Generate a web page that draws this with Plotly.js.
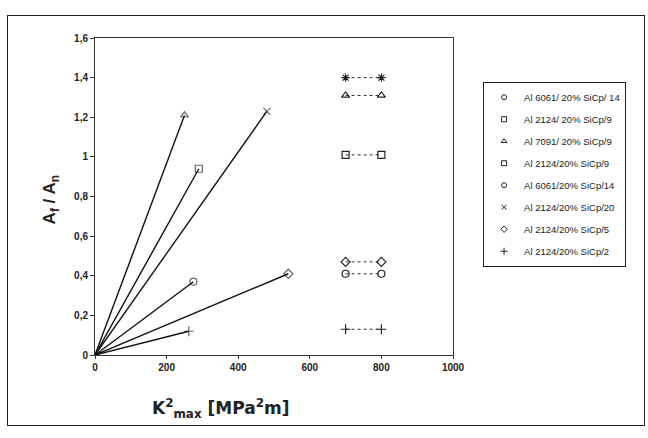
<!DOCTYPE html>
<html>
<head>
<meta charset="utf-8">
<script src="https://cdn.plot.ly/plotly-3.0.1.min.js"></script>
<style>
  html, body { margin: 0; padding: 0; background: #fff; }
  #chart { position: absolute; left: 0; top: 0; width: 648px; height: 438px; }
  #frame { position: absolute; left: 7px; top: 15px; width: 636px; height: 409px;
           border: 1.5px solid #222; pointer-events: none; }
</style>
</head>
<body>
<div id="chart"></div>
<div id="frame"></div>
<script>
// Lines from origin: end points (K^2max, Af/An)
const solidNames   = ["Al 7091/20% SiCp/9", "Al 2124/20% SiCp/20", "Al 2124/ 20% SiCp/9", "Al 6061/ 20% SiCp/ 14", "Al 2124/20% SiCp/5", "Al 2124/20% SiCp/2"];
const solidSymbols = ["triangle-up-open", "x-thin-open", "square-open", "circle-open", "diamond-open", "cross-thin-open"];
const solidX       = [250, 480, 290, 275, 540, 262];
const solidY       = [1.21, 1.23, 0.94, 0.37, 0.41, 0.12];

// Dotted horizontal pairs
const pairSymbols = ["asterisk-open", "triangle-up-open", "square-open", "diamond-open", "circle-open", "cross-thin-open"];
const pairX0 = [700, 700, 700, 700, 700, 700];
const pairX1 = [800, 800, 800, 800, 800, 800];
const pairY  = [1.40, 1.31, 1.01, 0.47, 0.41, 0.13];

// Legend entries
const legendNames   = ["Al 6061/ 20% SiCp/ 14", "Al 2124/ 20% SiCp/9", "Al 7091/ 20% SiCp/9", "Al 2124/20% SiCp/9", "Al 6061/20% SiCp/14", "Al 2124/20% SiCp/20", "Al 2124/20% SiCp/5", "Al 2124/20% SiCp/2"];
const legendSymbols = ["circle-open", "square-open", "triangle-up-open", "square-open", "circle-open", "x-thin-open", "diamond-open", "cross-thin-open"];

const xTickVals = [0, 200, 400, 600, 800, 1000];
const xTickText = ["0", "200", "400", "600", "800", "1000"];
const yTickVals = [0, 0.2, 0.4, 0.6, 0.8, 1, 1.2, 1.4, 1.6];
const yTickText = ["0", "0,2", "0,4", "0,6", "0,8", "1", "1,2", "1,4", "1,6"];

const traces = [];
for (let i = 0; i < solidX.length; i++) {
  traces.push({
    x: [0, solidX[i]], y: [0, solidY[i]],
    mode: "lines+markers", showlegend: false, name: solidNames[i],
    line: { color: "#111", width: 1.4 },
    marker: { symbol: solidSymbols[i], size: [0, 7], color: "#222", line: { width: 1.2, color: "#222" } }
  });
}
for (let i = 0; i < pairY.length; i++) {
  traces.push({
    x: [pairX0[i], pairX1[i]], y: [pairY[i], pairY[i]],
    mode: "lines+markers", showlegend: false,
    line: { color: "#333", width: 1, dash: "dot" },
    marker: { symbol: pairSymbols[i], size: 7, color: "#222", line: { width: 1.2, color: "#222" } }
  });
}
for (let i = 0; i < legendNames.length; i++) {
  traces.push({
    x: [null], y: [null], mode: "markers", name: legendNames[i], legendgroup: "g" + i,
    marker: { symbol: legendSymbols[i], size: 5, color: "#222", line: { width: 1, color: "#222" } }
  });
}

const layout = {
  width: 648, height: 438,
  margin: { l: 95, r: 195, t: 38, b: 83 },
  paper_bgcolor: "#fff", plot_bgcolor: "#fff",
  font: { family: "Liberation Sans, Arial, sans-serif", color: "#222" },
  xaxis: {
    range: [0, 1000], tickvals: xTickVals, ticktext: xTickText,
    showgrid: false, zeroline: false, showline: true, mirror: true,
    linecolor: "#333", linewidth: 1, ticks: "outside", ticklen: 3, tickcolor: "#333",
    tickfont: { size: 10, family: "Liberation Sans, Arial, sans-serif", weight: "bold" }
  },
  yaxis: {
    range: [0, 1.6], tickvals: yTickVals, ticktext: yTickText,
    showgrid: false, zeroline: false, showline: true, mirror: true,
    linecolor: "#333", linewidth: 1, ticks: "outside", ticklen: 4, tickcolor: "#333",
    tickfont: { size: 10, family: "Liberation Sans, Arial, sans-serif", weight: "bold" }
  },
  legend: {
    x: 1.084, y: 0.862, xanchor: "left", yanchor: "top",
    bordercolor: "#222", borderwidth: 1, bgcolor: "#fff",
    font: { size: 9.5, family: "Liberation Sans, Arial, sans-serif", color: "#222" },
    traceorder: "grouped", tracegroupgap: 3, itemwidth: 30
  },
  annotations: [
    { text: "<b>A<sub>f</sub> / A<sub>n</sub></b>", xref: "paper", yref: "paper",
      x: -0.16, y: 0.49, textangle: -90, showarrow: false,
      font: { size: 17, family: "Liberation Sans, Arial, sans-serif", color: "#222" } },
    { text: "<b>K<sup>2</sup><sub>max</sub> [MPa<sup>2</sup>m]</b>", xref: "paper", yref: "paper",
      x: 0.35, y: -0.17, xanchor: "center", yanchor: "middle", showarrow: false,
      font: { size: 17, family: "DejaVu Sans, sans-serif", color: "#222" } }
  ]
};

Plotly.newPlot("chart", traces, layout, { staticPlot: true, displayModeBar: false });
</script>
</body>
</html>
